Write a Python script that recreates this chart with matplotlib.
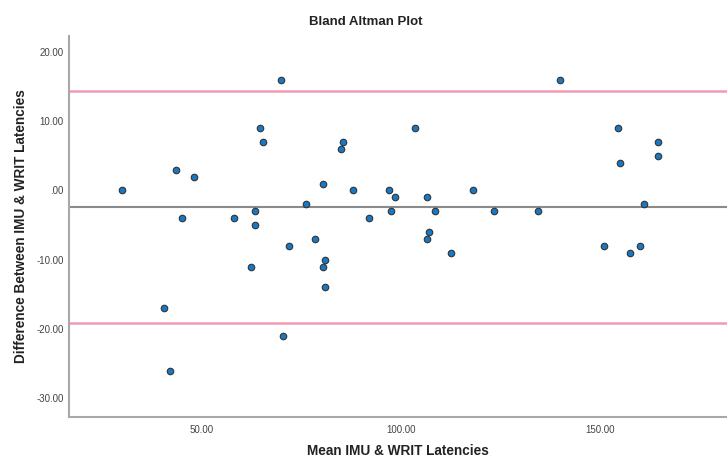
import numpy as np
import matplotlib
matplotlib.use("Agg")
import matplotlib.pyplot as plt

plt.rcParams['font.family'] = ['Liberation Sans', 'DejaVu Sans']

# mean of the two latencies (x) and their difference (y)
mean_lat = [30.0, 43.5, 48.0, 45.0, 69.9, 64.5, 65.4, 58.0, 63.4, 63.4,
            71.9, 78.5, 76.1, 80.5, 85.5, 84.9, 81.0, 40.5, 62.4, 80.4,
            81.0, 70.4, 42.0, 88.0, 92.0, 97.0, 98.5, 97.5, 103.5, 106.5,
            108.5, 107.0, 106.5, 112.5, 118.0, 123.4, 134.5, 140.0, 154.4, 154.9,
            151.0, 157.5, 160.1, 161.0, 164.5, 164.5]
diff_lat = [0, 3, 2, -4, 16, 9, 7, -4, -3, -5,
            -8, -7, -2, 1, 7, 6, -10, -17, -11, -11,
            -14, -21, -26, 0, -4, 0, -1, -3, 9, -1,
            -3, -6, -7, -9, 0, -3, -3, 16, 9, 4,
            -8, -9, -8, -2, 7, 5]
x_ticks = [50, 100, 150]
y_ticks = [20, 10, 0, -10, -20, -30]

x = np.array(mean_lat)
d = np.array(diff_lat, dtype=float)
md = d.mean()
sd = d.std(ddof=1)

fig = plt.figure(figsize=(7.27, 4.59), dpi=100)
ax = fig.add_axes([0.095, 0.0915, 0.905, 0.83])

ax.axhline(md + 1.96 * sd, color='#f49ab2', lw=1.8, zorder=1)
ax.axhline(md - 1.96 * sd, color='#f49ab2', lw=1.8, zorder=1)
ax.axhline(md, color='#8a8a8a', lw=1.5, zorder=1)

ax.scatter(x, d, s=22, facecolor='#1878c4', edgecolor='#333333', linewidths=0.8, zorder=3)

ax.set_xlim(16.6, 181.9)
ax.set_ylim(-32.7, 22.3)
ax.set_xticks(x_ticks)
ax.set_yticks(y_ticks)
ax.set_xticklabels(['%.2f' % t for t in x_ticks])
ax.set_yticklabels(['.00' if t == 0 else '%.2f' % t for t in y_ticks])
ax.tick_params(length=0, labelsize=7, labelcolor='#444444')
ax.tick_params(axis='x', pad=6)
ax.tick_params(axis='y', pad=4)

for s in ['top', 'right']:
    ax.spines[s].set_visible(False)
for s in ['left', 'bottom']:
    ax.spines[s].set_color('#a8a8a8')
    ax.spines[s].set_linewidth(1.5)

ax.set_xlabel('Mean IMU & WRIT Latencies', fontsize=9.8, fontweight='bold', color='#222222', labelpad=6)
ax.set_ylabel('Difference Between IMU & WRIT Latencies', fontsize=9.8, fontweight='bold', color='#222222', labelpad=6)
fig.text(0.503, 0.952, 'Bland Altman Plot', ha='center', va='center', fontsize=9.5, fontweight='bold', color='#222222')

fig.savefig('out.png', dpi=100)
